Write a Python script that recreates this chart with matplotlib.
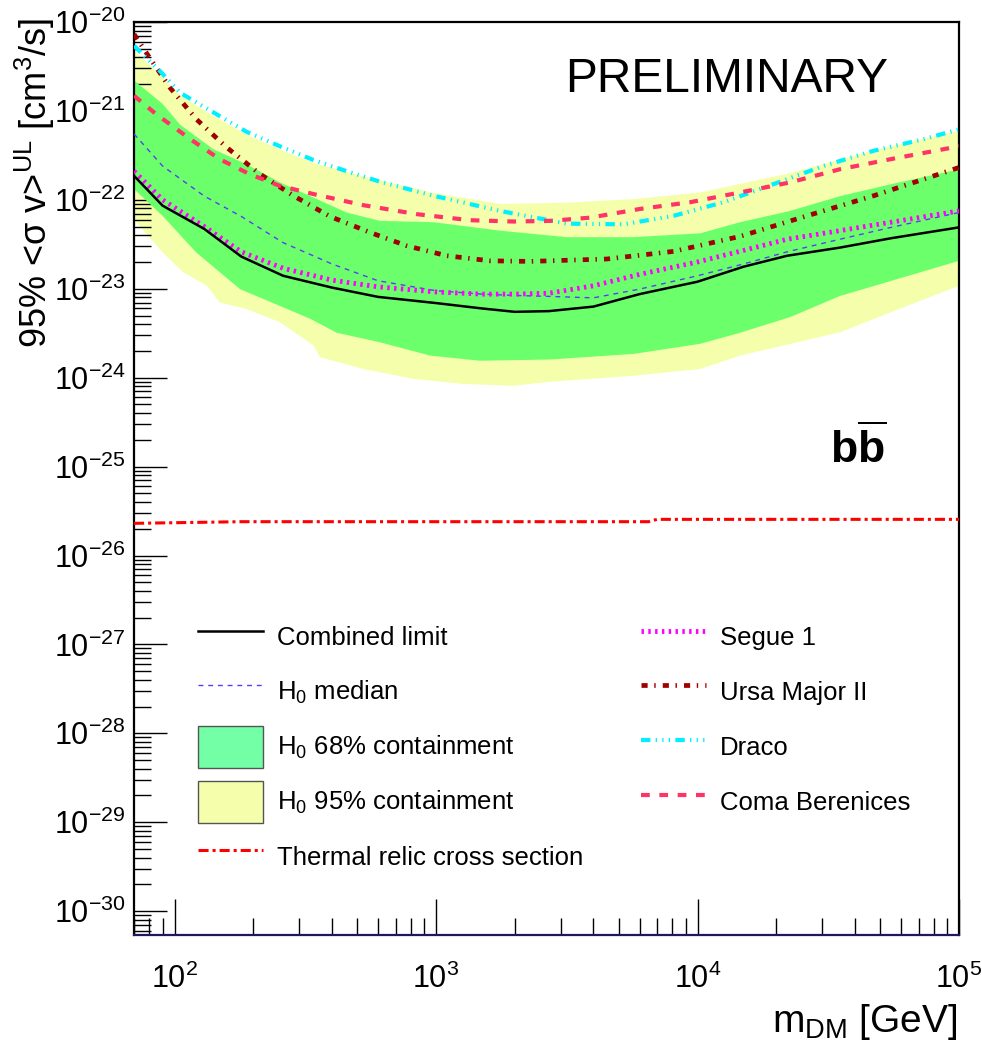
import matplotlib
matplotlib.use("Agg")
import matplotlib.pyplot as plt
import matplotlib.ticker as mticker
from matplotlib.patches import Patch

plt.rcParams["font.family"] = ["Liberation Sans", "DejaVu Sans"]
plt.rcParams["mathtext.fontset"] = "custom"
plt.rcParams["mathtext.rm"] = "Liberation Sans"
plt.rcParams["mathtext.it"] = "Liberation Sans:italic"
plt.rcParams["mathtext.bf"] = "Liberation Sans:bold"
plt.rcParams["mathtext.default"] = "regular"

# ── Data (m_DM in GeV, <sigma v> in cm^3/s) ─────────────────────────
GRID_M = [70, 90, 130, 180, 260, 400, 600, 1000, 1500, 2000, 2700, 4000,
          6000, 10000, 15000, 22000, 35000, 55000, 100000]
COMBINED = [1.86e-22, 8.6e-23, 4.7e-23, 2.3e-23, 1.4e-23, 1.03e-23, 8.1e-24,
            6.9e-24, 6.0e-24, 5.5e-24, 5.6e-24, 6.3e-24, 8.7e-24, 1.2e-23,
            1.77e-23, 2.35e-23, 2.9e-23, 3.7e-23, 4.9e-23]
SEGUE = [2.1e-22, 1.0e-22, 5.0e-23, 2.6e-23, 1.7e-23, 1.25e-23, 1.05e-23,
         9.2e-24, 8.7e-24, 8.7e-24, 8.9e-24, 1.08e-23, 1.45e-23, 2.0e-23,
         2.7e-23, 3.6e-23, 4.5e-23, 5.6e-23, 7.5e-23]
MEDIAN = [5.5e-22, 2.4e-22, 1.1e-22, 6.5e-23, 3.3e-23, 1.9e-23, 1.23e-23,
          9.5e-24, 8.7e-24, 8.4e-24, 8.2e-24, 7.9e-24, 9.9e-24, 1.4e-23,
          1.9e-23, 2.6e-23, 3.6e-23, 4.9e-23, 7.2e-23]

UMA_M = [70, 78, 96, 121, 158, 212, 285, 393, 559, 773, 1099, 1610, 2290,
         4500, 8090, 14550, 26200, 47100, 100000]
UMA = [7.3e-21, 4.5e-21, 1.83e-21, 8.1e-22, 3.9e-22, 1.95e-22, 1.11e-22,
       6.5e-23, 4.3e-23, 3.04e-23, 2.35e-23, 2.06e-23, 2.03e-23, 2.16e-23,
       2.63e-23, 3.88e-23, 6.6e-23, 1.11e-22, 2.31e-22]

DRACO_M = [70, 88, 105, 141, 189, 253, 340, 455, 610, 980, 1758, 3162,
           5210, 8090, 12570, 19500, 30300, 47100, 73100, 100000]
DRACO = [5.4e-21, 2.8e-21, 1.6e-21, 9.6e-22, 5.8e-22, 4.0e-22, 2.8e-22,
         2.1e-22, 1.6e-22, 1.11e-22, 7.5e-23, 5.4e-23, 5.3e-23, 6.6e-23,
         9.4e-23, 1.5e-22, 2.4e-22, 3.56e-22, 4.8e-22, 6.2e-22]

COMA_M = [70, 85, 115, 149, 194, 252, 340, 528, 844, 1345, 1977, 2730,
          3880, 6030, 9370, 14550, 22600, 35100, 54600, 100000]
COMA = [1.48e-21, 9.2e-22, 4.8e-22, 2.86e-22, 1.94e-22, 1.44e-22, 1.16e-22,
        8.7e-23, 6.9e-23, 5.9e-23, 5.7e-23, 5.8e-23, 6.3e-23, 7.9e-23,
        9.4e-23, 1.21e-22, 1.57e-22, 2.21e-22, 2.86e-22, 4.0e-22]

THERMAL_M = [70, 180, 6500, 7000, 100000]
THERMAL = [2.3e-26, 2.4e-26, 2.4e-26, 2.55e-26, 2.55e-26]

# H0 68% containment band
B68_UP_M = [70, 90, 105, 141, 189, 253, 340, 455, 610, 977, 1758, 3162,
            5690, 10230, 14550, 22600, 35100, 55000, 100000]
B68_UP = [2.2e-21, 1.2e-21, 7.0e-22, 3.7e-22, 2.5e-22, 1.57e-22, 1.06e-22,
          7.2e-23, 5.8e-23, 5.6e-23, 4.5e-23, 3.8e-23, 3.8e-23, 4.2e-23,
          5.6e-23, 7.5e-23, 1.1e-22, 1.5e-22, 2.2e-22]
B68_LO_M = [70, 90, 121, 178, 253, 330, 417, 610, 949, 1473, 2730, 5690,
            10230, 14550, 22600, 35100, 100000]
B68_LO = [1.32e-22, 6.6e-23, 2.56e-23, 9.9e-24, 6.4e-24, 4.6e-24, 3.2e-24,
          2.5e-24, 1.77e-24, 1.55e-24, 1.6e-24, 1.85e-24, 2.4e-24, 3.2e-24,
          4.8e-24, 8.3e-24, 2.06e-23]

# H0 95% containment band
B95_UP_M = [70, 90, 105, 141, 189, 253, 340, 543, 977, 1758, 3162, 5690,
            10230, 22600, 47100, 100000]
B95_UP = [4.8e-21, 2.4e-21, 1.5e-21, 8.8e-22, 5.4e-22, 3.7e-22, 2.6e-22,
          1.8e-22, 1.2e-22, 9.0e-23, 9.3e-23, 1.02e-22, 1.21e-22, 2.0e-22,
          3.6e-22, 6.0e-22]
B95_LO_M = [70, 90, 108, 133, 149, 189, 253, 340, 360, 528, 819, 1271,
            1977, 2730, 5690, 10230, 14550, 35100, 63200, 100000]
B95_LO = [6.0e-23, 2.56e-23, 1.53e-23, 1.08e-23, 7.0e-24, 5.9e-24, 4.2e-24,
          2.3e-24, 1.7e-24, 1.25e-24, 9.7e-25, 8.5e-25, 8.1e-25, 9.0e-25,
          1.05e-24, 1.25e-24, 1.77e-24, 3.24e-24, 6.4e-24, 1.08e-23]

X_RANGE = (70, 1e5)
Y_RANGE = (5.4e-31, 1e-20)
X_TICKS = [1e2, 1e3, 1e4, 1e5]
Y_TICKS = [1e-30, 1e-29, 1e-28, 1e-27, 1e-26, 1e-25, 1e-24, 1e-23, 1e-22,
           1e-21, 1e-20]

GREEN = "#6cff6c"
YELLOW = "#f5ffab"

fig = plt.figure(figsize=(9.82, 10.47), dpi=100)
ax = fig.add_axes([0.1365, 0.1070, 0.8401, 0.8720])
ax.set_xscale("log")
ax.set_yscale("log")

# bands
ax.fill(B95_UP_M + B95_LO_M[::-1], B95_UP + B95_LO[::-1],
        color=YELLOW, lw=0, zorder=1)
ax.fill(B68_UP_M + B68_LO_M[::-1], B68_UP + B68_LO[::-1],
        color=GREEN, lw=0, zorder=2)

# curves
l_comb, = ax.plot(GRID_M, COMBINED, color="black", lw=1.8, zorder=6)
l_med, = ax.plot(GRID_M, MEDIAN, color="#5b3cf5", lw=1.0,
                 linestyle=(0, (3.5, 3.5)), zorder=5)
l_therm, = ax.plot(THERMAL_M, THERMAL, color="#ff0000", lw=2.2,
                   linestyle=(0, (3.3, 1.3, 1.0, 1.3)), zorder=5)
l_seg, = ax.plot(GRID_M, SEGUE, color="#ff00ff", lw=3.5,
                 linestyle=(0, (0.5, 0.9)), zorder=5)
l_uma, = ax.plot(UMA_M, UMA, color="#a00000", lw=3.4,
                 linestyle=(0, (1.3, 1.4, 0.3, 1.5)), zorder=5)
l_dra, = ax.plot(DRACO_M, DRACO, color="#00f0ff", lw=3.0,
                 linestyle=(0, (2.25, 1.275, 0.3, 1.275, 0.3, 1.275, 0.3, 1.275)),
                 zorder=5)
l_coma, = ax.plot(COMA_M, COMA, color="#ff3366", lw=3.0,
                  linestyle=(0, (2.1, 2.3)), zorder=5)

ax.set_xlim(*X_RANGE)
ax.set_ylim(*Y_RANGE)

# ROOT-like axes
for side in ["top", "bottom", "left", "right"]:
    ax.spines[side].set_linewidth(1.6)
ax.spines["bottom"].set_color("#241560")
ax.set_xticks(X_TICKS)
ax.set_yticks(Y_TICKS)
ax.xaxis.set_minor_locator(mticker.LogLocator(base=10, subs=range(2, 10), numticks=50))
ax.yaxis.set_minor_locator(mticker.LogLocator(base=10, subs=range(2, 10), numticks=100))
ax.xaxis.set_minor_formatter(mticker.NullFormatter())
ax.yaxis.set_minor_formatter(mticker.NullFormatter())
ax.set_xlim(*X_RANGE)
ax.set_ylim(*Y_RANGE)
ax.tick_params(which="both", direction="in", top=False, right=False,
               labelsize=22, width=1.0)
ax.tick_params(axis="y", which="major", length=24, pad=6)
ax.tick_params(axis="y", which="minor", length=12)
ax.tick_params(axis="x", which="major", length=26, pad=21)
ax.tick_params(axis="x", which="minor", length=12)

fig.text(35 / 982, 1 - 18 / 1047,
         r"95% <σ v>$^{UL}$ [cm$^{3}$/s]",
         rotation=90, ha="center", va="top", fontsize=26)
fig.text(958 / 982, 1 - 1022 / 1047, r"m$_{DM}$ [GeV]",
         ha="right", va="center", fontsize=28)

ax.text(0.7403, 0.9245, "PRELIMINARY", transform=fig.transFigure,
        ha="center", va="center", fontsize=34.5)
ax.text(0.874, 0.572, r"$\mathbf{b}\overline{\mathbf{b}}$",
        transform=fig.transFigure, ha="center", va="center", fontsize=32)

h68 = Patch(facecolor="#72ffa6", edgecolor="#555555", lw=1.0)
h95 = Patch(facecolor=YELLOW, edgecolor="#555555", lw=1.0)
handles = [l_comb, l_med, h68, h95, l_therm, l_seg, l_uma, l_dra, l_coma]
labels = ["Combined limit", r"H$_{0}$ median", r"H$_{0}$ 68% containment",
          r"H$_{0}$ 95% containment", "Thermal relic cross section",
          "Segue 1", "Ursa Major II", "Draco", "Coma Berenices"]
fig.legend(handles, labels, loc="upper left",
           bbox_to_anchor=(198 / 982, 1 - 616 / 1047),
           ncol=2, frameon=False, fontsize=18.5,
           handlelength=2.53, handleheight=2.14, handletextpad=0.54,
           labelspacing=0.5, columnspacing=2.26, borderpad=0, borderaxespad=0)

fig.savefig("out.png", dpi=100)
